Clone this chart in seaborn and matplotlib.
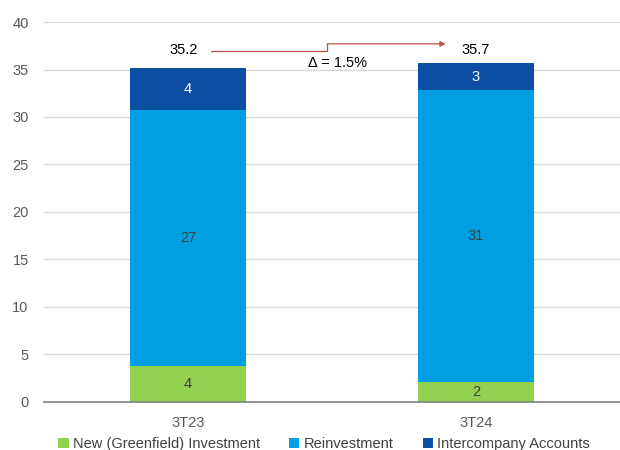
import matplotlib
matplotlib.use("Agg")
import matplotlib.pyplot as plt
import seaborn as sns
import pandas as pd
from matplotlib.patches import Patch

quarters = ["3T23", "3T24"]
greenfield = [3.8, 2.1]
reinvestment = [26.9, 30.7]
intercompany = [4.5, 2.9]
totals = [35.2, 35.7]
delta_label = "\u0394 = 1.5%"

series_names = ["New (Greenfield) Investment", "Reinvestment", "Intercompany Accounts"]
colors = ["#92D050", "#009FE3", "#0B4EA2"]

sns.set_theme(style="white")
plt.rcParams["font.family"] = ["Liberation Sans", "DejaVu Sans"]

df = pd.DataFrame({"quarter": quarters, "g": greenfield, "r": reinvestment, "i": intercompany})
df["c1"] = df["g"]
df["c2"] = df["g"] + df["r"]
df["c3"] = df["c2"] + df["i"]

fig = plt.figure(figsize=(6.2, 4.5), dpi=100)
ax = fig.add_axes([0.071, 0.107, 0.929, 0.844])

# stacked bars: draw cumulative layers from top down
for col, colr in zip(["c3", "c2", "c1"], colors[::-1]):
    sns.barplot(data=df, x="quarter", y=col, color=colr, width=0.4,
                saturation=1, linewidth=0, edgecolor="none", ax=ax, zorder=2)

ax.set_xlim(-0.5, 1.5)
ax.set_ylim(0, 40)
ax.set_yticks(range(0, 41, 5))
ax.yaxis.grid(True, color="#d9d9d9", linewidth=1, zorder=0)
ax.set_axisbelow(True)
for s in ["left", "right", "top"]:
    ax.spines[s].set_visible(False)
ax.spines["bottom"].set_color("#808080")
ax.spines["bottom"].set_linewidth(1.2)
ax.tick_params(axis="y", length=0, labelsize=10.5, colors="#595959", pad=11)
ax.tick_params(axis="x", length=0, labelsize=10.5, colors="#595959", pad=10)
ax.set_xlabel("")
ax.set_ylabel("")

# segment labels
for k in range(len(quarters)):
    g, r, i = greenfield[k], reinvestment[k], intercompany[k]
    ax.text(k, g / 2, f"{g:.0f}", ha="center", va="center", fontsize=10.5, color="#404040", zorder=3)
    ax.text(k, g + r / 2, f"{r:.0f}", ha="center", va="center", fontsize=10.5, color="#404040", zorder=3)
    ax.text(k, g + r + i / 2, f"{i:.0f}", ha="center", va="center", fontsize=10.5, color="white", zorder=3)
    ax.text(k - 0.015 * (1 - k), 37.05, f"{totals[k]:.1f}", ha="center", va="center",
            fontsize=10.5, color="black", zorder=3)

# growth arrow
y_lo = 36.9
y_hi = 37.7
red = "#C0504D"
ax.plot([0.08, 0.483, 0.483], [y_lo, y_lo, y_hi], color=red, linewidth=0.9, zorder=3, clip_on=False)
ax.annotate("", xy=(0.895, y_hi), xytext=(0.483, y_hi),
            arrowprops=dict(arrowstyle="-|>", color=red, linewidth=0.9, mutation_scale=8,
                            shrinkA=0, shrinkB=0), zorder=3)
ax.text(0.52, 35.7, delta_label, ha="center", va="center", fontsize=10.5, color="black", zorder=3)

handles = [Patch(facecolor=c, edgecolor="none") for c in colors]
fig.legend(handles, series_names, loc="center", bbox_to_anchor=(0.523, 0.013), ncol=3,
           frameon=False, fontsize=10.5, handlelength=0.7, handleheight=0.7,
           handletextpad=0.3, columnspacing=2.0, labelcolor="#404040",
           borderpad=0.1)

fig.savefig("out.png", dpi=100)
